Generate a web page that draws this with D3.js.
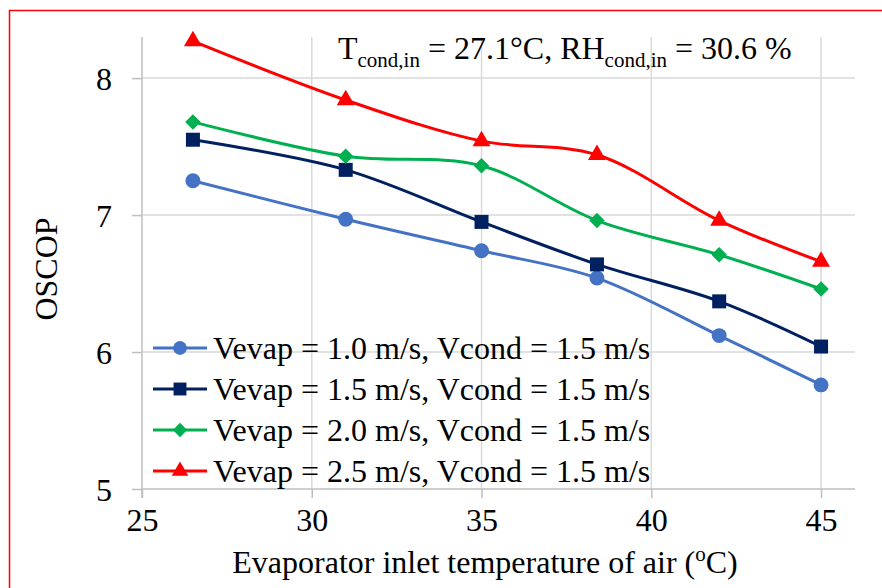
<!DOCTYPE html>
<html>
<head>
<meta charset="utf-8">
<script src="https://cdn.jsdelivr.net/npm/d3@7"></script>
<style>
  body { margin: 0; background: #fff; }
  svg { display: block; }
  svg text { font-family: "Liberation Serif", "Times New Roman", serif; fill: #000; }
</style>
</head>
<body>
<script>
// data
const temps = [26.5, 31, 35, 38.4, 42, 45];
const cop_v10 = [7.25, 6.97, 6.74, 6.54, 6.12, 5.76];
const cop_v15 = [7.55, 7.33, 6.95, 6.64, 6.37, 6.04];
const cop_v20 = [7.68, 7.43, 7.36, 6.96, 6.71, 6.46];
const cop_v25 = [8.27, 7.84, 7.54, 7.44, 6.96, 6.66];
const seriesNames = [
  "Vevap = 1.0 m/s, Vcond = 1.5 m/s",
  "Vevap = 1.5 m/s, Vcond = 1.5 m/s",
  "Vevap = 2.0 m/s, Vcond = 1.5 m/s",
  "Vevap = 2.5 m/s, Vcond = 1.5 m/s"
];
const xTicks = [25, 30, 35, 40, 45];
const yTicks = [5, 6, 7, 8];

// square turned 45deg, like the Excel diamond marker
const squareDiamond = {
  draw(ctx, size) {
    const r = Math.sqrt(size / 2);
    ctx.moveTo(0, -r); ctx.lineTo(r, 0); ctx.lineTo(0, r); ctx.lineTo(-r, 0); ctx.closePath();
  }
};

const series = [
  { name: seriesNames[0], values: cop_v10, color: "#4472C4", symbol: d3.symbolCircle, size: 175 },
  { name: seriesNames[1], values: cop_v15, color: "#002060", symbol: d3.symbolSquare, size: 196 },
  { name: seriesNames[2], values: cop_v20, color: "#00B050", symbol: squareDiamond, size: 120 },
  { name: seriesNames[3], values: cop_v25, color: "#FF0000", symbol: d3.symbolTriangle, size: 140 }
];

const W = 882, H = 588;
const FS = 32;
const svg = d3.select("body").append("svg").attr("width", W).attr("height", H);

// red frame
svg.append("rect")
  .attr("x", 9.5).attr("y", 10.5)
  .attr("width", W).attr("height", H)
  .attr("fill", "none").attr("stroke", "#FF0000").attr("stroke-width", 1.5);

const plot = { left: 142, right: 855, top: 37, bottom: 489 };

const x = d3.scaleLinear().domain([25, 46]).range([plot.left, plot.right]);
const y = d3.scaleLinear().domain([5, 8.3]).range([plot.bottom, plot.top]);

// grid
svg.append("g").selectAll("line").data(yTicks.filter(d => d > 5)).join("line")
  .attr("x1", plot.left).attr("x2", plot.right)
  .attr("y1", d => y(d)).attr("y2", d => y(d))
  .attr("stroke", "#d9d9d9").attr("stroke-width", 1.5);
svg.append("g").selectAll("line").data(xTicks.filter(d => d > 25)).join("line")
  .attr("y1", plot.top).attr("y2", plot.bottom)
  .attr("x1", d => x(d)).attr("x2", d => x(d))
  .attr("stroke", "#d9d9d9").attr("stroke-width", 1.5);

// axes
const xAxis = svg.append("g")
  .attr("transform", `translate(0,${plot.bottom})`)
  .call(d3.axisBottom(x).tickValues(xTicks).tickFormat(d3.format("d"))
    .tickSize(9).tickSizeOuter(0).tickPadding(10));
const yAxis = svg.append("g")
  .attr("transform", `translate(${plot.left},0)`)
  .call(d3.axisLeft(y).tickValues(yTicks).tickFormat(d3.format("d"))
    .tickSize(10).tickSizeOuter(0).tickPadding(20));

[xAxis, yAxis].forEach(a => {
  a.attr("font-family", null).attr("font-size", FS);
  a.select(".domain").attr("stroke", "#bfbfbf").attr("stroke-width", 1.5);
  a.selectAll(".tick line").attr("stroke", "#bfbfbf").attr("stroke-width", 1.5);
  a.selectAll(".tick text").attr("fill", "#000");
});
xAxis.select(".domain").attr("d", `M${plot.left},0H${plot.right}`);
yAxis.select(".domain").attr("d", `M0,${plot.top}V${plot.bottom + 9}`);
yAxis.selectAll(".tick text").attr("dy", "0.36em");

// lines
const line = d3.line()
  .x((d, i) => x(temps[i]))
  .y(d => y(d))
  .curve(d3.curveCatmullRom);

series.forEach(s => {
  svg.append("path")
    .attr("d", line(s.values))
    .attr("fill", "none")
    .attr("stroke", s.color)
    .attr("stroke-width", 3);
  svg.append("g").selectAll("path").data(s.values).join("path")
    .attr("transform", (d, i) => `translate(${x(temps[i])},${y(d)})`)
    .attr("d", d3.symbol().type(s.symbol).size(s.size))
    .attr("fill", s.color);
});

// legend
const legend = svg.append("g").attr("transform", "translate(153,348)");
series.forEach((s, i) => {
  const g = legend.append("g").attr("transform", `translate(0,${i * 41})`);
  g.append("line").attr("x1", 0).attr("x2", 54).attr("y1", 0).attr("y2", 0)
    .attr("stroke", s.color).attr("stroke-width", 3);
  g.append("path").attr("transform", "translate(27,0)")
    .attr("d", d3.symbol().type(s.symbol).size(s.size * 0.85)).attr("fill", s.color);
  g.append("text").attr("x", 60).attr("y", 0).attr("dy", "0.34em")
    .style("font-size", FS + "px").text(s.name);
});

// annotation
const note = svg.append("text").attr("x", 338).attr("y", 59).style("font-size", FS + "px");
note.append("tspan").text("T");
note.append("tspan").attr("dy", 8).style("font-size", "21px").text("cond,in");
note.append("tspan").attr("dy", -8).text(" = 27.1°C, RH");
note.append("tspan").attr("dy", 8).style("font-size", "21px").text("cond,in");
note.append("tspan").attr("dy", -8).text(" = 30.6 %");

// axis titles
const xt = svg.append("text").attr("x", 485).attr("y", 573)
  .attr("text-anchor", "middle").style("font-size", FS + "px");
xt.append("tspan").text("Evaporator inlet temperature of air (");
xt.append("tspan").attr("dy", -12).style("font-size", "21px").text("o");
xt.append("tspan").attr("dy", 12).text("C)");

svg.append("text")
  .attr("transform", "translate(57,269) rotate(-90)")
  .attr("text-anchor", "middle").style("font-size", FS + "px").text("OSCOP");
</script>
</body>
</html>
